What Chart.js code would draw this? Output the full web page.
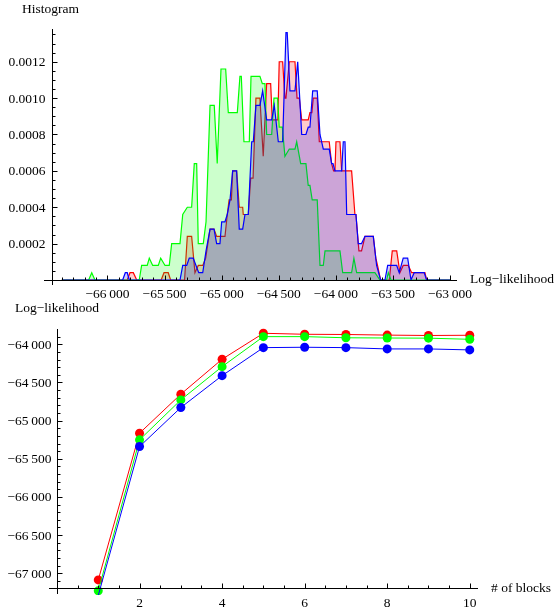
<!DOCTYPE html>
<html><head><meta charset="utf-8">
<script src="https://cdn.jsdelivr.net/npm/chart.js@4.4.1/dist/chart.umd.min.js"></script>
<style>
html,body{margin:0;padding:0;background:#fff;}
#w1{position:absolute;left:0;top:0;width:558px;height:300px;}
#w2{position:absolute;left:0;top:300px;width:558px;height:312px;}
</style></head>
<body>
<div id="w1"><canvas id="c1" width="558" height="300"></canvas></div>
<div id="w2"><canvas id="c2" width="558" height="312"></canvas></div>
<script>
// ---------- Histogram data ----------
const greenX = [-66400,-66165,-66138,-66110,-65722,-65701,-65652,-65634,-65604,-65555,-65534,-65496,-65459,-65438,-65365,-65341,-65301,-65263,-65240,-65219,-65205,-65161,-65137,-65102,-65065,-65039,-65006,-64965,-64942,-64863,-64840,-64828,-64805,-64758,-64743,-64665,-64644,-64621,-64606,-64562,-64542,-64510,-64496,-64469,-64446,-64408,-64358,-64343,-64308,-64262,-64242,-64227,-64207,-64163,-64139,-64110,-64095,-63964,-63940,-63862,-63842,-63818,-63658,-63614,-63555,-63541,-63517,-63000];
const greenY = [0,0,0.00004,0,0,0.00008,0.00008,0.00012,0.00008,0.00008,0.00012,0.00008,0.00008,0.0002,0.0002,0.00036,0.0004,0.0004,0.00064,0.00064,0.0002,0.0002,0.00032,0.00096,0.00096,0.00064,0.00116,0.00116,0.00092,0.00092,0.00112,0.00112,0.00076,0.00076,0.00112,0.00112,0.00108,0.00108,0.0008,0.0008,0.001,0.001,0.00084,0.00084,0.00068,0.00072,0.00072,0.00076,0.00064,0.00064,0.00052,0.00052,0.00044,0.00044,0.00008,0.00008,0.00016,0.00016,0.00004,0.00004,0.00012,0.00004,0.00004,0,0,0.00004,0,0];

const redX = [-66400,-65827,-65803,-65774,-65744,-65530,-65505,-65468,-65447,-65325,-65301,-65263,-65234,-65205,-65166,-65140,-65102,-65067,-65044,-64971,-64951,-64935,-64915,-64904,-64869,-64846,-64816,-64811,-64767,-64746,-64725,-64700,-64665,-64636,-64606,-64571,-64557,-64508,-64496,-64466,-64446,-64437,-64408,-64358,-64340,-64320,-64299,-64242,-64227,-64210,-64198,-64163,-64145,-64058,-64037,-64020,-64008,-63999,-63964,-63949,-63862,-63833,-63824,-63798,-63775,-63745,-63672,-63650,-63635,-63608,-63532,-63506,-63467,-63439,-63410,-63366,-63336,-63220,-63205,-63000];
const redY = [0,0,0.00004,0.00004,0,0,0.00004,0.00004,0,0,0.00024,0.00024,0.00004,0.00008,0.00008,0.00012,0.00028,0.00028,0.00024,0.00024,0.00036,0.00044,0.00044,0.0006,0.0006,0.0004,0.0004,0.00036,0.00036,0.00056,0.00056,0.001,0.001,0.00068,0.00108,0.00108,0.00088,0.00088,0.0012,0.0012,0.001,0.001,0.0012,0.0012,0.001,0.001,0.00088,0.00088,0.00092,0.00092,0.001,0.001,0.00076,0.00076,0.00064,0.0006,0.0006,0.00076,0.00076,0.0006,0.0006,0.00036,0.00036,0.00016,0.00016,0.00024,0.00024,0.00012,0.00008,0,0,0.00016,0.00016,0.00004,0.00008,0.00008,0.00004,0.00004,0,0];

const blueX = [-66400,-65867,-65844,-65827,-65809,-65365,-65341,-65306,-65284,-65249,-65225,-65201,-65166,-65137,-65102,-65067,-65044,-65015,-65000,-64971,-64951,-64927,-64904,-64869,-64846,-64816,-64796,-64767,-64737,-64723,-64700,-64665,-64641,-64606,-64562,-64539,-64504,-64466,-64437,-64426,-64402,-64358,-64334,-64299,-64262,-64242,-64227,-64203,-64163,-64139,-64110,-64058,-64037,-64025,-64008,-63949,-63935,-63920,-63905,-63824,-63804,-63775,-63745,-63672,-63643,-63608,-63570,-63546,-63467,-63445,-63410,-63371,-63342,-63314,-63226,-63205,-63000];
const blueY = [0,0,0.00004,0.00004,0,0,0.00008,0.00008,0.00012,0.00012,0.00008,0.00004,0.00004,0.00016,0.00028,0.00028,0.0002,0.0002,0.00032,0.00032,0.00036,0.00044,0.0006,0.0006,0.00028,0.00028,0.00036,0.00036,0.00076,0.00076,0.00096,0.00096,0.00104,0.00088,0.00088,0.00096,0.00076,0.00076,0.00136,0.00136,0.00104,0.00104,0.0012,0.0008,0.0008,0.00084,0.00084,0.00104,0.00104,0.0008,0.00072,0.00072,0.00064,0.00064,0.0006,0.0006,0.00076,0.00076,0.00036,0.00036,0.0002,0.0002,0.00024,0.00024,0.00008,0,0,0.00008,0.00008,0.00004,0.00012,0.00012,0,0.00004,0.00004,0,0];

const histXTicks = [-66000,-65500,-65000,-64500,-64000,-63500,-63000];
const histXTickLabels = ['\u221266\u2009000','\u221265\u2009500','\u221265\u2009000','\u221264\u2009500','\u221264\u2009000','\u221263\u2009500','\u221263\u2009000'];
const histYTicks = [0.0002,0.0004,0.0006,0.0008,0.0010,0.0012];
const histYTickLabels = ['0.0002','0.0004','0.0006','0.0008','0.0010','0.0012'];

// ---------- Log-likelihood vs blocks ----------
const blocks = [1,2,3,4,5,6,7,8,9,10];
const redLL   = [-67087,-65165,-64654,-64196,-63856,-63869,-63872,-63880,-63885,-63882];
const greenLL = [-67230,-65252,-64729,-64293,-63900,-63900,-63915,-63918,-63920,-63935];
const blueLL  = [-67290,-65340,-64829,-64411,-64044,-64039,-64044,-64061,-64061,-64074];

const llXTicks = [2,4,6,8,10];
const llXTickLabels = ['2','4','6','8','10'];
const llYTicks = [-64000,-64500,-65000,-65500,-66000,-66500,-67000];
const llYTickLabels = ['\u221264\u2009000','\u221264\u2009500','\u221265\u2009000','\u221265\u2009500','\u221266\u2009000','\u221266\u2009500','\u221267\u2009000'];

// ---------- helpers ----------
const FONT = '13.5px "Liberation Serif", "Times New Roman", serif';
function pts(xs, ys){ return xs.map((x,i)=>({x:x, y:ys[i]})); }
function range(a,b,step){ const r=[]; for(let v=a; v<=b+step*1e-6; v+=step) r.push(Math.round(v*1e6)/1e6); return r; }

function axesPlugin(s){
  return {
    id:'mmaAxes',
    afterDatasetsDraw(chart){
      const ctx = chart.ctx, xs = chart.scales.x, ys = chart.scales.y, ca = chart.chartArea;
      ctx.save();
      ctx.strokeStyle = '#000'; ctx.fillStyle = '#000'; ctx.lineWidth = 1;
      const Y = Math.round(ys.getPixelForValue(s.yOrigin)) + 0.5;
      const X = Math.round(xs.getPixelForValue(s.xOrigin)) + 0.5;
      ctx.beginPath(); ctx.moveTo(ca.left - s.xAxisExtendLeft, Y); ctx.lineTo(ca.right, Y); ctx.stroke();
      ctx.beginPath(); ctx.moveTo(X, ca.top); ctx.lineTo(X, ca.bottom + s.yAxisExtendBottom); ctx.stroke();
      // x ticks
      ctx.beginPath();
      s.xMinor.forEach(v=>{ const p = Math.round(xs.getPixelForValue(v))+0.5; ctx.moveTo(p,Y); ctx.lineTo(p,Y-3); });
      s.xMajor.forEach(v=>{ const p = Math.round(xs.getPixelForValue(v))+0.5; ctx.moveTo(p,Y); ctx.lineTo(p,Y-5); });
      // y ticks
      s.yMinor.forEach(v=>{ const p = Math.round(ys.getPixelForValue(v))+0.5; ctx.moveTo(X,p); ctx.lineTo(X+3,p); });
      s.yMajor.forEach(v=>{ const p = Math.round(ys.getPixelForValue(v))+0.5; ctx.moveTo(X,p); ctx.lineTo(X+5,p); });
      ctx.stroke();
      ctx.font = FONT;
      ctx.textAlign = 'center'; ctx.textBaseline = 'alphabetic';
      s.xMajor.forEach((v,i)=>{ ctx.fillText(s.xLabels[i], xs.getPixelForValue(v), Y + s.xLabelDy); });
      ctx.textAlign = 'right';
      s.yMajor.forEach((v,i)=>{ ctx.fillText(s.yLabels[i], X - s.yLabelDx, ys.getPixelForValue(v) + 4.5); });
      ctx.textAlign = 'left';
      ctx.fillText(s.xTitle, s.xTitlePos[0], s.xTitlePos[1]);
      ctx.fillText(s.yTitle, s.yTitlePos[0], s.yTitlePos[1]);
      ctx.restore();
    }
  };
}

const commonPlugins = { legend:{display:false}, tooltip:{enabled:false}, title:{display:false} };

// ---------- Top chart ----------
function histDS(xs, ys, rgb){
  return { data: pts(xs, ys), borderColor: 'rgb('+rgb+')', backgroundColor: 'rgba('+rgb+',0.2)',
           borderWidth: 1.2, pointRadius: 0, tension: 0, fill: 'origin' };
}
new Chart(document.getElementById('c1'), {
  type: 'line',
  data: { datasets: [ histDS(blueX, blueY, '0,0,255'), histDS(greenX, greenY, '0,255,0'), histDS(redX, redY, '255,0,0') ] },
  options: {
    responsive:false, animation:false, devicePixelRatio: 1,
    layout:{ padding:{ left:52, right:101, top:29, bottom:20 } },
    plugins: commonPlugins,
    scales: {
      x: { type:'linear', min:-66486, max:-62939, display:false },
      y: { type:'linear', min:0, max:0.00138, display:false }
    }
  },
  plugins: [ axesPlugin({
    xOrigin:-66486, yOrigin:0, xAxisExtendLeft:8, yAxisExtendBottom:5,
    xMajor: histXTicks, xLabels: histXTickLabels, xMinor: range(-66400, -63000, 100),
    yMajor: histYTicks, yLabels: histYTickLabels, yMinor: range(0.00005, 0.00135, 0.00005),
    xLabelDy: 17, yLabelDx: 7,
    xTitle: 'Log\u2212likelihood', xTitlePos: [470, 283],
    yTitle: 'Histogram', yTitlePos: [22, 13]
  }) ]
});

// ---------- Bottom chart ----------
function llDS(ys, rgb){
  return { data: pts(blocks, ys), borderColor: 'rgb('+rgb+')', backgroundColor: 'rgb('+rgb+')',
           pointBackgroundColor: 'rgb('+rgb+')', pointBorderWidth: 0, pointRadius: 4.5,
           borderWidth: 1, tension: 0, fill: false, clip: {left:10, top:10, right:10, bottom:7} };
}
new Chart(document.getElementById('c2'), {
  type: 'line',
  data: { datasets: [ llDS(blueLL, '0,0,255'), llDS(greenLL, '0,255,0'), llDS(redLL, '255,0,0') ] },
  options: {
    responsive:false, animation:false, devicePixelRatio: 1,
    layout:{ padding:{ left:57, right:80, top:29, bottom:24 } },
    plugins: commonPlugins,
    scales: {
      x: { type:'linear', min:0, max:10.2, display:false },
      y: { type:'linear', min:-67193, max:-63800, display:false }
    }
  },
  plugins: [ axesPlugin({
    xOrigin:0, yOrigin:-67193, xAxisExtendLeft:8, yAxisExtendBottom:6,
    xMajor: llXTicks, xLabels: llXTickLabels, xMinor: range(0.5, 10, 0.5),
    yMajor: llYTicks, yLabels: llYTickLabels, yMinor: range(-67100, -63900, 100),
    xLabelDy: 18, yLabelDx: 6,
    xTitle: '# of blocks', xTitlePos: [491, 292],
    yTitle: 'Log\u2212likelihood', yTitlePos: [15, 12]
  }) ]
});
</script>
</body></html>
